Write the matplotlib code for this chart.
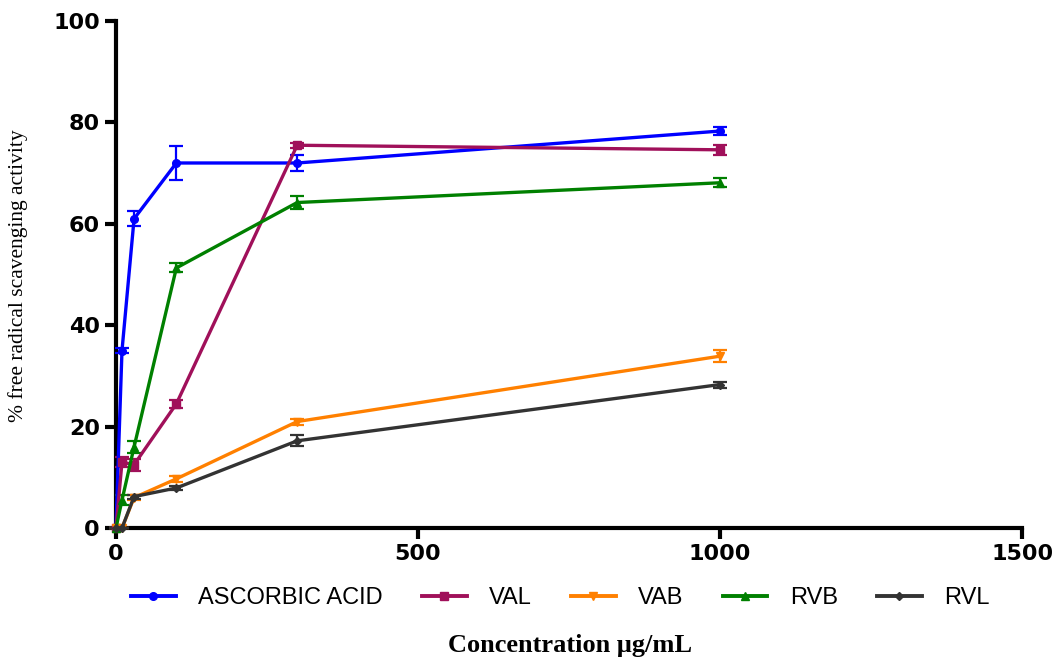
import matplotlib.pyplot as plt
from matplotlib.lines import Line2D

conc = [0, 10, 30, 100, 300, 1000]

ascorbic = [0, 35.0, 61.0, 72.0, 72.0, 78.3]
ascorbic_err = [0, 0.5, 1.5, 3.3, 1.5, 0.7]
val = [0, 13.0, 12.5, 24.5, 75.5, 74.6]
val_err = [0, 1.0, 1.2, 0.8, 0.5, 1.0]
vab = [0, 0, 6.0, 9.7, 21.0, 33.9]
vab_err = [0, 0, 0.5, 0.6, 0.6, 1.2]
rvb = [0, 5.5, 16.0, 51.3, 64.2, 68.1]
rvb_err = [0, 1.0, 1.2, 0.9, 1.3, 0.9]
rvl = [0, 0, 6.2, 7.9, 17.2, 28.3]
rvl_err = [0, 0, 0.4, 0.4, 1.1, 0.6]

series = [
    ("ASCORBIC ACID", ascorbic, ascorbic_err, "#0000ff", "o"),
    ("VAL", val, val_err, "#a0105a", "s"),
    ("VAB", vab, vab_err, "#ff8000", "v"),
    ("RVB", rvb, rvb_err, "#008000", "^"),
    ("RVL", rvl, rvl_err, "#333333", "D"),
]


def main():
    fig = plt.figure(figsize=(10.57, 6.57), dpi=100)
    ax = fig.add_axes([0.1097, 0.1963, 0.8573, 0.7717])

    handles = []
    for label, y, err, color, marker in series:
        ms = 4.5 if marker == "D" else 5.5
        ax.errorbar(conc, y, yerr=err, color=color, marker=marker,
                    markersize=ms, linewidth=2.4, elinewidth=1.6,
                    capsize=5, capthick=1.6, clip_on=False, zorder=3)
        handles.append(Line2D([], [], color=color, marker=marker,
                              markersize=ms, linewidth=2.8, label=label))

    ax.set_xlim(0, 1500)
    ax.set_ylim(0, 100)
    ax.set_xticks([0, 500, 1000, 1500])
    ax.set_yticks([0, 20, 40, 60, 80, 100])

    for side in ["top", "right"]:
        ax.spines[side].set_visible(False)
    for side in ["left", "bottom"]:
        ax.spines[side].set_linewidth(3)

    ax.tick_params(axis="both", direction="out", length=8, width=3,
                   labelsize=16)
    for lab in ax.get_xticklabels() + ax.get_yticklabels():
        lab.set_fontweight("bold")
        lab.set_family("DejaVu Sans")

    fig.text(0.017, 0.58, "% free radical scavenging activity",
             rotation=90, ha="center", va="center",
             family="Liberation Serif", fontsize=15.5)
    fig.text(0.539, 0.018, "Concentration \u03bcg/mL", ha="center",
             va="center", family="Liberation Serif", fontsize=19,
             fontweight="bold")

    fig.legend(handles=handles, loc="center", ncol=5,
               bbox_to_anchor=(0.53, 0.09), frameon=False,
               prop={"family": "Liberation Sans", "size": 17},
               handlelength=1.9, columnspacing=1.65, handletextpad=0.95)

    fig.savefig("out.png", dpi=100)


if __name__ == "__main__":
    main()
